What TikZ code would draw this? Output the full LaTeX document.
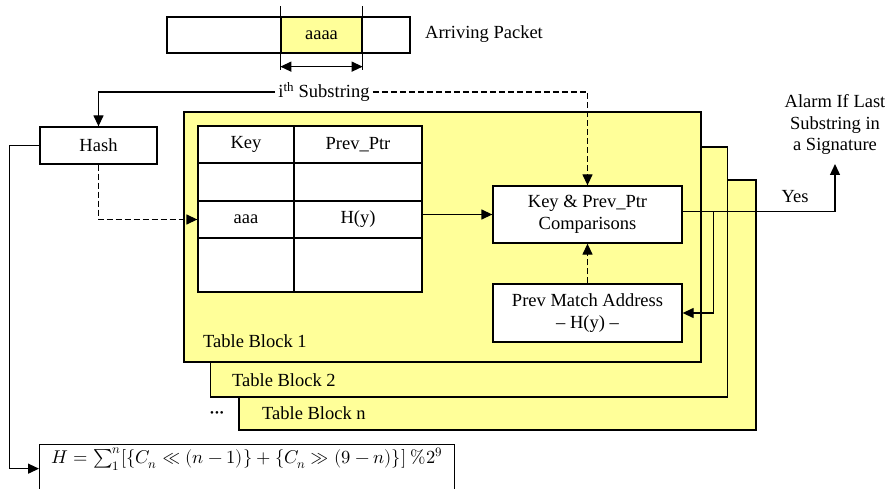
\documentclass[tikz,border=0pt]{standalone}
\usepackage{fontspec}
\usepackage{unicode-math}
\setmainfont{Liberation Serif}
\setmathfont{Latin Modern Math}
\usetikzlibrary{arrows.meta}

\definecolor{blockyellow}{HTML}{FFFF99}

\begin{document}
\begin{tikzpicture}[x=1pt, y=-1pt,
        font=\fontsize{18.5}{21.5}\selectfont,
        plainbox/.style={rectangle, draw=black, fill=white, text=black,
                         align=center, inner sep=0pt, line width=1.3pt},
        tablecell/.style={plainbox},
        tableblock/.style={rectangle, draw=black, fill=blockyellow, line width=1.3pt,
                           minimum width=517pt, minimum height=250pt},
        textlabel/.style={inner sep=0pt, anchor=west},
        flow/.style={-{Triangle[length=11pt, width=10pt]}, line width=1.3pt},
        flowdashed/.style={flow, dash pattern=on 6pt off 3pt}]
        \useasboundingbox (0,0) rectangle (885,489);

        % ---------------------------------------------------------------------------
        % Packet and substring window
        % ---------------------------------------------------------------------------
        \node[plainbox, minimum width=243pt, minimum height=36pt]  (Packet) at (288.5,35) {};
        \node[plainbox, fill=blockyellow,
                minimum width=81pt, minimum height=36pt]           (Window) at (321.5,35) {aaaa};
        \node[textlabel]                                           (PktText) at (425,34) {Arriving Packet};

        \draw [line width=1.3pt] ([yshift=10pt]Window.north west) -- ([yshift=-16pt]Window.south west);
        \draw [line width=1.3pt] ([yshift=10pt]Window.north east) -- ([yshift=-16pt]Window.south east);
        \draw [flow, {Triangle[length=11pt, width=10pt]}-{Triangle[length=11pt, width=10pt]}]
                ([yshift=-13pt]Window.south west) -- ([yshift=-13pt]Window.south east);

        \node[inner sep=3pt] (Ith) at (324,92) {i\textsuperscript{th} Substring};

        % ---------------------------------------------------------------------------
        % Hash unit
        % ---------------------------------------------------------------------------
        \node[plainbox, minimum width=117pt, minimum height=37pt]  (Hash) at (98.5,145.5) {Hash};

        \node[plainbox, anchor=north west, minimum width=415pt,
                text height=14pt, text depth=34pt, inner ysep=5pt] (HashFn) at (39,444)
                {$H = \sum_1^n [\{C_n \ll (n-1)\} + \{C_n \gg (9-n)\}]\ \%2^9$};

        % ---------------------------------------------------------------------------
        % Table blocks (last one first, so block 1 sits on top)
        % ---------------------------------------------------------------------------
        \node[tableblock] (BlockN) at (497.5,305) {};
        \node[tableblock] (Block2) at (469,272)   {};
        \node[tableblock] (Block1) at (442.5,237) {};

        \node[textlabel] (LabelOne) at (203,341) {Table Block 1};
        \node[textlabel] (LabelTwo) at (232,380) {Table Block 2};
        \node[textlabel] (LabelN)   at (262,413) {Table Block n};
        \node            (Dots)     at (217,414)
                {\fontsize{11}{11}\selectfont\textbullet\hspace{1pt}\textbullet\hspace{1pt}\textbullet};

        % table rows: Key | Prev_Ptr
        \node[tablecell, minimum width=96pt,  minimum height=37pt] (KeyHead) at (246,144.5) {Key};
        \node[tablecell, minimum width=128pt, minimum height=37pt] (PtrHead) at (358,144.5) {Prev\_Ptr};
        \node[tablecell, minimum width=96pt,  minimum height=38pt] (KeyOne)  at (246,182)   {};
        \node[tablecell, minimum width=128pt, minimum height=38pt] (PtrOne)  at (358,182)   {};
        \node[tablecell, minimum width=96pt,  minimum height=37pt] (KeyTwo)  at (246,219.5) {aaa};
        \node[tablecell, minimum width=128pt, minimum height=37pt] (PtrTwo)  at (358,219.5) {H(y)};
        \node[tablecell, minimum width=96pt,  minimum height=54pt] (KeyThr)  at (246,265)   {};
        \node[tablecell, minimum width=128pt, minimum height=54pt] (PtrThr)  at (358,265)   {};

        \node[plainbox, minimum width=189pt, minimum height=57pt]  (Compare) at (587.5,214.5)
                {Key \& Prev\_Ptr\\Comparisons};
        \node[plainbox, minimum width=189pt, minimum height=58pt]  (PrevAddr) at (587.5,313)
                {Prev Match Address\\\textendash\ H(y) \textendash};

        % ---------------------------------------------------------------------------
        % Alarm output
        % ---------------------------------------------------------------------------
        \node[align=center, anchor=south, inner sep=0pt, inner ysep=9pt] (Alarm) at (835,164)
                {Alarm If Last\\Substring in\\a Signature};
        \node (Yes) at (795,197) {Yes};

        % ---------------------------------------------------------------------------
        % Draw arrows
        % ---------------------------------------------------------------------------
        \draw [flow]        (Ith.west)      -| (Hash.north);                        % substring to hash
        \draw [flowdashed]  (Ith.east)      -| (Compare.north);                     % substring to comparator
        \draw [flowdashed]  (Hash.south)    |- (KeyTwo.west);                       % hash index
        \draw [flow]        (Hash.west)     -- ++(-30,0) |- ([yshift=5pt]HashFn.west); % hash function
        \draw [flow]        (PtrTwo.east |- Compare.west) -- (Compare.west);        % stored entry
        \draw [flowdashed]  (PrevAddr.north) -- (Compare.south);                    % previous match
        \draw [flow]        ([yshift=3pt]Compare.east) -| (Alarm.south);            % match found
        \draw [flow]        ([xshift=31pt, yshift=3pt]Compare.east) |- (PrevAddr.east); % feedback

\end{tikzpicture}
\end{document}
